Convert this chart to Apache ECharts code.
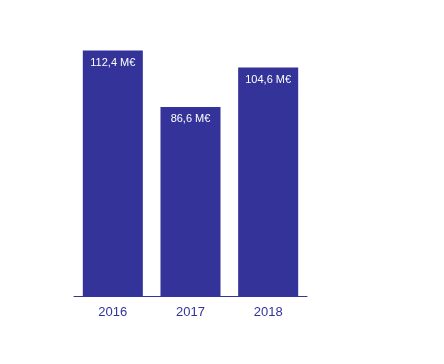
<!DOCTYPE html>
<html><head><meta charset="utf-8">
<script src="https://cdn.jsdelivr.net/npm/echarts@6/dist/echarts.min.js"></script>
<style>html,body{margin:0;padding:0;background:#fff}#c{width:444px;height:364px}</style>
</head><body><div id="c"></div>
<script>
const categories = ['2016', '2017', '2018'];
const values = [112.4, 86.6, 104.6];
const labels = ['112,4 M€', '86,6 M€', '104,6 M€'];

const chart = echarts.init(document.getElementById('c'), null, {renderer: 'canvas'});
chart.setOption({
  animation: false,
  backgroundColor: '#fff',
  grid: {left: 74, right: 137, top: 34, bottom: 68},
  xAxis: {
    type: 'category', data: categories,
    axisLine: {lineStyle: {color: '#333399', width: 1}},
    axisTick: {show: false},
    axisLabel: {color: '#333399', fontSize: 13, fontFamily: 'Liberation Sans, Arial, sans-serif', margin: 10}
  },
  yAxis: {type: 'value', min: 0, max: 120, show: false, splitLine: {show: false}},
  series: [{
    type: 'bar',
    data: values,
    barCategoryGap: '22.7%',
    itemStyle: {color: '#333399'},
    label: {
      show: true, position: 'insideTop', distance: 7,
      color: '#fff', fontSize: 11, fontFamily: 'Liberation Sans, Arial, sans-serif',
      formatter: p => labels[p.dataIndex]
    }
  }]
});
</script></body></html>
